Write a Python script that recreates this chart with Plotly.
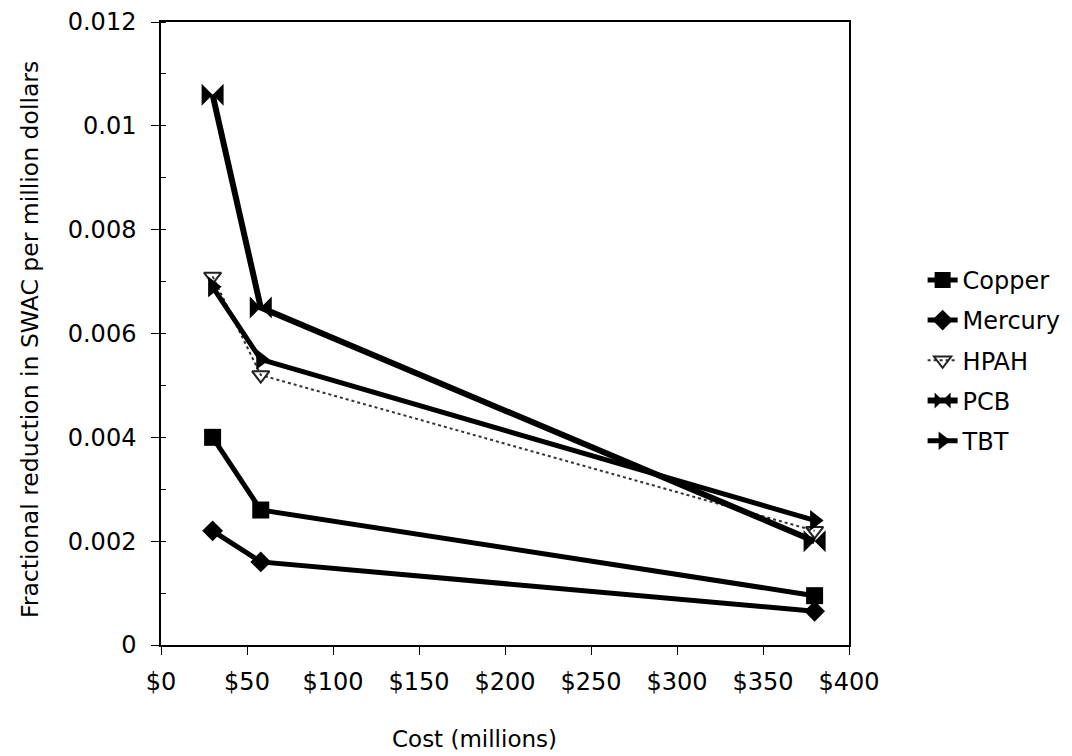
import plotly.graph_objects as go

cost = [30, 58, 380]
copper = [0.0040, 0.0026, 0.00095]
mercury = [0.0022, 0.0016, 0.00065]
hpah = [0.0071, 0.0052, 0.0022]
pcb = [0.0106, 0.0065, 0.0020]
tbt = [0.0069, 0.0055, 0.0024]

x_ticks = [0, 50, 100, 150, 200, 250, 300, 350, 400]
x_labels = ["$0", "$50", "$100", "$150", "$200", "$250", "$300", "$350", "$400"]
y_ticks = [0, 0.002, 0.004, 0.006, 0.008, 0.010, 0.012]
y_labels = ["0", "0.002", "0.004", "0.006", "0.008", "0.01", "0.012"]

FONT = "DejaVu Sans, Arial, sans-serif"

# page body has an 8px margin; figure sized/margined so plot area lands at x 161-849, y 22-645
fig = go.Figure()
fig.add_trace(go.Scatter(x=cost, y=copper, name="Copper", mode="lines+markers",
                         line=dict(color="black", width=5),
                         marker=dict(symbol="square", size=17, color="black"),
                         legendgroup="a"))
fig.add_trace(go.Scatter(x=cost, y=mercury, name="Mercury", mode="lines+markers",
                         line=dict(color="black", width=5),
                         marker=dict(symbol="diamond", size=16, color="black"),
                         legendgroup="b"))
fig.add_trace(go.Scatter(x=cost, y=hpah, name="HPAH", mode="lines+markers",
                         line=dict(color="#333333", width=2, dash="dot"),
                         marker=dict(symbol="triangle-down-open", size=15, color="#222222",
                                     line=dict(width=2)),
                         legendgroup="c"))
fig.add_trace(go.Scatter(x=cost, y=pcb, name="PCB", mode="lines+markers",
                         line=dict(color="black", width=6),
                         marker=dict(symbol="bowtie", size=22, color="black"),
                         legendgroup="d"))
fig.add_trace(go.Scatter(x=cost, y=tbt, name="TBT", mode="lines+markers",
                         line=dict(color="black", width=5),
                         marker=dict(symbol="triangle-right", size=18, color="black"),
                         legendgroup="e"))

fig.update_layout(
    width=1064, height=748,
    margin=dict(l=153, r=223, t=14, b=111, autoexpand=False),
    paper_bgcolor="white", plot_bgcolor="white",
    font=dict(family=FONT, size=24, color="black"),
    showlegend=True,
    legend=dict(x=1.107, y=0.457, xanchor="left", yanchor="middle",
                font=dict(family=FONT, size=24, color="black"),
                tracegroupgap=6, itemwidth=30, bgcolor="rgba(0,0,0,0)"),
)
fig.update_xaxes(range=[0, 400], tickvals=x_ticks, ticktext=x_labels,
                 showgrid=False, zeroline=False, showline=True, linecolor="black",
                 linewidth=1.5, mirror=True, ticks="outside", ticklen=8,
                 tickcolor="black", tickfont=dict(size=24, family=FONT),
                 ticklabelstandoff=6, automargin=False)
fig.update_yaxes(range=[0, 0.012], tickvals=y_ticks, ticktext=y_labels,
                 showgrid=False, zeroline=False, showline=True, linecolor="black",
                 linewidth=1.5, mirror=True, ticks="outside", ticklen=8,
                 tickcolor="black", tickfont=dict(size=24, family=FONT),
                 ticklabelstandoff=10, automargin=False,
                 minor=dict(dtick=0.001, ticks="inside", ticklen=5, tickcolor="black"))

fig.add_annotation(text="Cost (millions)", xref="paper", yref="paper",
                   x=(474 - 161) / 688, y=-(739 - 645) / 623, xanchor="center", yanchor="middle",
                   showarrow=False, font=dict(family=FONT, size=23, color="black"))
fig.add_annotation(text="Fractional reduction in SWAC per million dollars", xref="paper", yref="paper",
                   x=-(161 - 30) / 688, y=(645 - 340) / 623, xanchor="center", yanchor="middle",
                   textangle=-90, showarrow=False, font=dict(family=FONT, size=23.5, color="black"))

fig.write_html("out.html")
